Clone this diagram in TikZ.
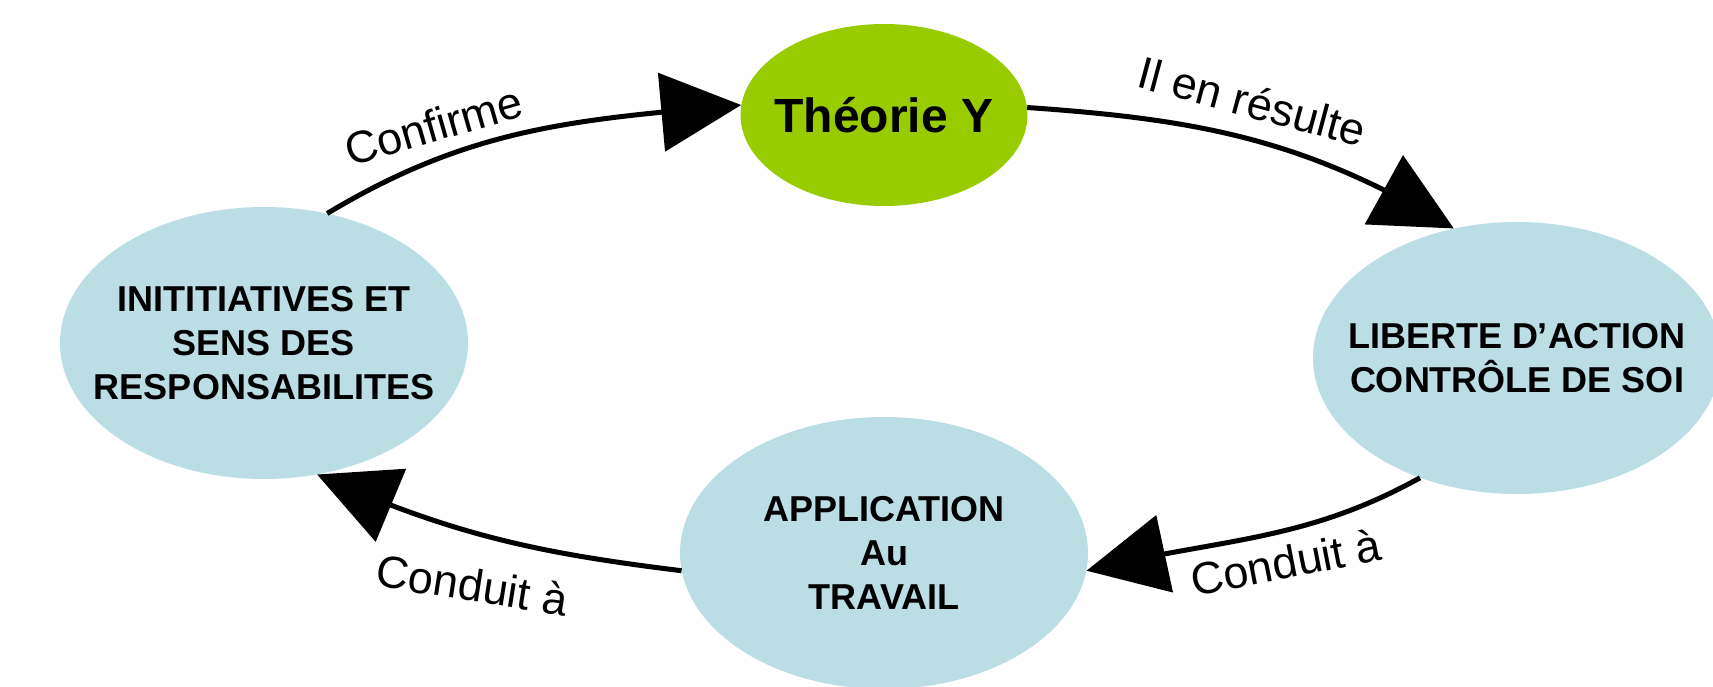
\documentclass[tikz,border=0pt]{standalone}
\usepackage{fontspec}
\setmainfont{Liberation Sans}
\usetikzlibrary{arrows.meta,bending,shapes.geometric}
\definecolor{stageblue}{RGB}{186,222,228}
\definecolor{theorygreen}{RGB}{153,204,0}
\begin{document}
\begin{tikzpicture}[x=1pt,y=1pt,
  stage/.style={ellipse, fill=stageblue, minimum width=408pt, minimum height=272pt, inner sep=0pt},
  theory/.style={ellipse, fill=theorygreen, minimum width=287pt, minimum height=182pt, inner sep=0pt},
  stagetext/.style={align=center, inner sep=0pt, font=\bfseries\fontsize{36}{44}\selectfont},
  theorytext/.style={inner sep=0pt, font=\bfseries\fontsize{48}{56}\selectfont},
  flow/.style={line width=5pt, -{Triangle[length=80pt,width=78pt,flex]}},
  flowlabel/.style={anchor=base, inner sep=0pt, font=\fontsize{45}{54}\selectfont}]
\useasboundingbox (0,0) rectangle (1713,686);

% cycle stages
\node[stage] (initi) at (264,343) {};
\node[stage] (libre) at (1517,328) {};
\node[stage] (appli) at (884,133) {};
\node[theory] (theo) at (884,571) {};

\node[stagetext] (initiT) at (initi) {INITITIATIVES ET\\SENS DES\\RESPONSABILITES};
\node[stagetext] (libreT) at (libre) {LIBERTE D’ACTION\\CONTRÔLE DE SOI};
\node[stagetext] (appliT) at (appli) {APPLICATION\\Au\\TRAVAIL};
\node[theorytext] (theoT) at (theo) {Théorie Y};

% connectors
\draw[flow] (initi.64) to[out=31,in=185] (theo.176);
\draw[flow] (theo.3) to[out=-4,in=149] (libre.116);
\draw[flow] (libre.231) to[out=209,in=14] (appli.-5);
\draw[flow] (appli.185) to[out=173,in=-24] (initi.292);

% connector labels
\node[flowlabel, rotate=16] (lab1) at (438,545) {Confirme};
\node[flowlabel, rotate=-15] (lab2) at (1248,569) {Il en résulte};
\node[flowlabel, rotate=11] (lab3) at (1289,108) {Conduit à};
\node[flowlabel, rotate=-9] (lab4) at (470,85) {Conduit à};
\end{tikzpicture}
\end{document}
